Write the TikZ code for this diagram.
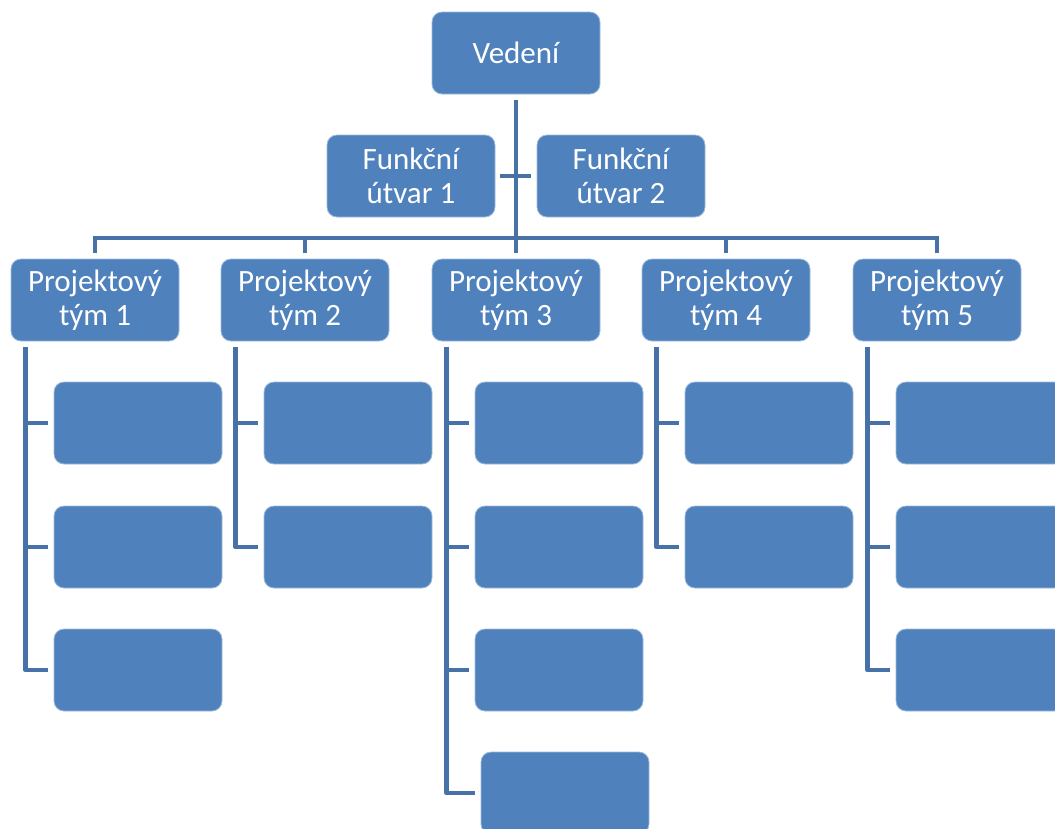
\documentclass[tikz,border=0pt]{standalone}
\usepackage{fontspec}
\setmainfont{Carlito}
\definecolor{boxblue}{HTML}{4F81BD}
\definecolor{lineblue}{HTML}{4672A8}
\tikzset{
  unit/.style={rounded corners=10pt, fill=boxblue, draw=boxblue!55!white, line width=0.8pt,
    minimum width=168pt, minimum height=82pt, inner sep=0pt,
    text=white, align=center, font=\fontsize{31}{34.5}\selectfont},
  conn/.style={draw=lineblue, line width=4.5pt}
}
\begin{document}
\begin{tikzpicture}[x=1pt, y=-1pt]
\useasboundingbox (0,0) rectangle (1055,828);
\clip (0,0) rectangle (1055,828);

% top level and staff units
\node[unit] (ved) at (516,53) {Vedení};
\node[unit] (f1) at (411,176) {Funkční\\útvar 1};
\node[unit] (f2) at (621,176) {Funkční\\útvar 2};

% project teams
\node[unit] (t1) at (95,300) {Projektový\\tým 1};
\node[unit] (t2) at (305,300) {Projektový\\tým 2};
\node[unit] (t3) at (516,300) {Projektový\\tým 3};
\node[unit] (t4) at (726,300) {Projektový\\tým 4};
\node[unit] (t5) at (937,300) {Projektový\\tým 5};

% team members
\node[unit] (c11) at (138,423) {};
\node[unit] (c12) at (138,547) {};
\node[unit] (c13) at (138,670) {};
\node[unit] (c21) at (348,423) {};
\node[unit] (c22) at (348,547) {};
\node[unit] (c31) at (559,423) {};
\node[unit] (c32) at (559,547) {};
\node[unit] (c33) at (559,670) {};
\node[unit] (c34) at (565,793) {};
\node[unit] (c41) at (769,423) {};
\node[unit] (c42) at (769,547) {};
\node[unit] (c51) at (980,423) {};
\node[unit] (c52) at (980,547) {};
\node[unit] (c53) at (980,670) {};

% trunk and bus
\coordinate (bus) at (516,238);
\draw[conn] ([yshift=-6pt]ved.south) -- ([yshift=6pt]t3.north);
\draw[conn] ([xshift=5pt]f1.east) -- ([xshift=-6pt]f2.west);
\draw[conn] ([yshift=6pt]t1.north) |- (t5.north |- bus) -- ([yshift=6pt]t5.north);
\foreach \t in {t2,t4}
  \draw[conn] (\t.north |- bus) -- ([yshift=6pt]\t.north);

% member branches
\foreach \t/\last/\list in {t1/c13/{c11,c12,c13}, t2/c22/{c21,c22}, t3/c34/{c31,c32,c33,c34}, t4/c42/{c41,c42}, t5/c53/{c51,c52,c53}} {
  \coordinate (\t-l) at ([xshift=15pt,yshift=-6pt]\t.south west);
  \draw[conn, line join=round] (\t-l) |- ([xshift=-6pt]\last.west);
  \foreach \c in \list
    \draw[conn] (\t-l |- \c.west) -- ([xshift=-6pt]\c.west);
}
\end{tikzpicture}
\end{document}
